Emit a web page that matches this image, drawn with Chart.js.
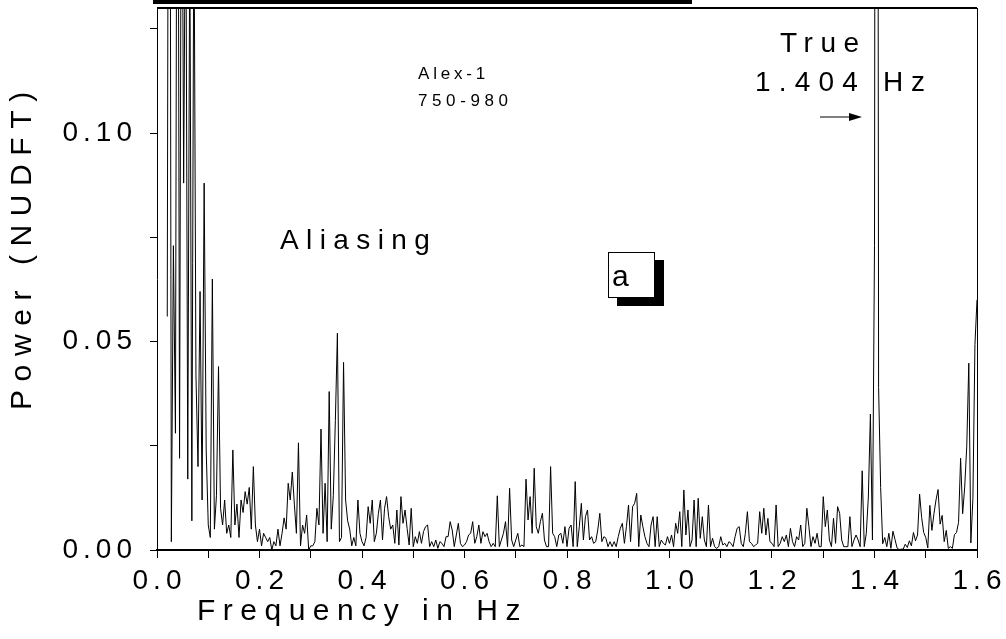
<!DOCTYPE html>
<html>
<head>
<meta charset="utf-8">
<script src="https://cdn.jsdelivr.net/npm/chart.js@4.4.1/dist/chart.umd.min.js"></script>
<style>
  html, body { margin: 0; padding: 0; background: #fff; }
  #wrap { width: 1006px; height: 639px; }
</style>
</head>
<body>
<div id="wrap"><canvas id="spectrum"></canvas></div>
<script>
// Frequency grid of the NUDFT spectrum (Hz)
const freqStart = 0.02;
const freqStep = 0.004;

// Power values, one array per 0.1 Hz band
const band0 = [0.056, 0.30, 0.002, 0.073, 0.028, 0.25, 0.022, 0.20, 0.088, 0.17,
  0.017, 0.15, 0.007, 0.16, 0.042, 0.020, 0.062, 0.012, 0.088, 0.024];
const band1 = [0.006, 0.003, 0.065, 0.005, 0.013, 0.044, 0.010, 0.006, 0.012, 0.004,
  0.006, 0.003, 0.024, 0.006, 0.011, 0.003, 0.012, 0.009, 0.014, 0.011,
  0.015, 0.005, 0.020, 0.006, 0.002];
const band2 = [0.005, 0.001, 0.004, 0.003, 0.002, 0.003, 0.000, 0.002, 0.001, 0.005,
  0.001, 0.004, 0.0077, 0.005, 0.016, 0.012, 0.0187, 0.011, 0.004, 0.0257,
  0.001, 0.006, 0.004, 0.0084, 0.000];
const band3 = [0.001, 0.001, 0.002, 0.010, 0.006, 0.029, 0.004, 0.016, 0.002, 0.038,
  0.005, 0.013, 0.031, 0.052, 0.002, 0.003, 0.045, 0.012, 0.007, 0.005,
  0.001, 0.003, 0.001, 0.012, 0.004];
const band4 = [0.002, 0.001, 0.003, 0.0104, 0.0064, 0.012, 0.002, 0.004, 0.0088, 0.012,
  0.0024, 0.010, 0.0128, 0.008, 0.005, 0.006, 0.0016, 0.0096, 0.0012, 0.0128,
  0.0064, 0.0096, 0.0052, 0.0012, 0.010];
const band5 = [0.0008, 0.0032, 0.0016, 0.0044, 0.0016, 0.0044, 0.0056, 0.006, 0.0008, 0.002,
  0.0008, 0.0024, 0.0004, 0.002, 0.0016, 0.0008, 0.0032, 0.0032, 0.0068, 0.0048,
  0.0008, 0.0036, 0.0064, 0.0016, 0.0008];
const band6 = [0.0012, 0.002, 0.0036, 0.004, 0.0068, 0.0016, 0.0032, 0.006, 0.0016, 0.0044,
  0.0032, 0.004, 0.002, 0.0008, 0.0016, 0.0008, 0.013, 0.0008, 0.0024, 0.004,
  0.0068, 0.0008, 0.0148, 0.0024, 0.0008];
const band7 = [0.0024, 0.004, 0.0008, 0.0012, 0.0008, 0.017, 0.0072, 0.0128, 0.004, 0.0196,
  0.0056, 0.004, 0.0068, 0.0088, 0.0024, 0.0008, 0.0008, 0.020, 0.004, 0.0032,
  0.0008, 0.0036, 0.004, 0.0016, 0.0056];
const band8 = [0.0008, 0.0052, 0.006, 0.0008, 0.0164, 0.0008, 0.0056, 0.0112, 0.0024, 0.008,
  0.0096, 0.0024, 0.0032, 0.0016, 0.002, 0.0048, 0.0088, 0.002, 0.0032, 0.0028,
  0.0008, 0.002, 0.0008, 0.002, 0.0008];
const band9 = [0.0032, 0.0052, 0.0064, 0.0016, 0.0056, 0.0108, 0.002, 0.0104, 0.0112, 0.0136,
  0.0008, 0.0084, 0.0056, 0.0032, 0.0016, 0.0008, 0.006, 0.008, 0.0008, 0.008,
  0.0008, 0.0024, 0.0016, 0.0012, 0.0032];
const band10 = [0.0016, 0.0036, 0.0008, 0.0064, 0.004, 0.0092, 0.0008, 0.0144, 0.0036, 0.0096,
  0.0008, 0.0024, 0.012, 0.0008, 0.0124, 0.0028, 0.008, 0.0024, 0.0008, 0.0108,
  0.0008, 0.0028, 0.0008, 0.0004, 0.0008];
const band11 = [0.0032, 0.0012, 0.0016, 0.0008, 0.002, 0.0016, 0.0008, 0.0032, 0.0052, 0.0056,
  0.0016, 0.0008, 0.004, 0.0092, 0.002, 0.0016, 0.0008, 0.0012, 0.0016, 0.0092,
  0.004, 0.010, 0.0036, 0.0076, 0.002];
const band12 = [0.0016, 0.0008, 0.0108, 0.0008, 0.0016, 0.0032, 0.002, 0.0036, 0.0008, 0.0052,
  0.002, 0.0008, 0.0032, 0.0024, 0.006, 0.0008, 0.0016, 0.010, 0.0056, 0.0008,
  0.0032, 0.0016, 0.004, 0.0008, 0.0008];
const band13 = [0.0128, 0.0056, 0.0096, 0.0024, 0.0008, 0.0076, 0.0016, 0.0104, 0.0088, 0.0024,
  0.0008, 0.0008, 0.0008, 0.008, 0.0008, 0.0024, 0.0036, 0.0024, 0.0008, 0.019,
  0.0008, 0.004, 0.0127, 0.0326, 0.0024];
const band14 = [0.073, 0.50, 0.039, 0.015, 0.0015, 0.003, 0.0008, 0.004, 0.0004, 0.0045,
  0.0025, 0.0005, 0.0001, 0.0002, 0.0002, 0.0014, 0.0006, 0.0022, 0.001, 0.0042,
  0.0022, 0.0036, 0.0134, 0.0078, 0.0042];
const band15 = [0.003, 0.0005, 0.0107, 0.0047, 0.0087, 0.012, 0.0145, 0.0062, 0.0083, 0.002,
  0.0047, 0.0004, 0.0008, 0.0004, 0.0037, 0.0042, 0.0066, 0.022, 0.0087, 0.0151,
  0.0249, 0.0448, 0.0017, 0.0123, 0.0493, 0.060];

const power = [].concat(band0, band1, band2, band3, band4, band5, band6, band7,
  band8, band9, band10, band11, band12, band13, band14, band15);
const freqs = power.map((_, i) => +(freqStart + i * freqStep).toFixed(3));

// Axis ranges and labels
const xRange = [0, 1.6];
const yRange = [0, 0.13];
const yTitle = 'Power (NUDFT)';
const xTitle = 'Frequency in Hz';

const FONT = '"Liberation Sans", Arial, Helvetica, sans-serif';

// text with spread-out letters, like the original plot
function spacedText(ctx, text, x, y, size, spacing) {
  ctx.font = size + 'px ' + FONT;
  ctx.letterSpacing = spacing + 'px';
  ctx.fillText(text, x, y);
}

// Draw frame, titles and annotations on top of the chart
const decorations = {
  id: 'decorations',
  beforeDraw(chart) {
    // tick labels are spread out too
    chart.ctx.letterSpacing = '5px';
  },
  afterDraw(chart) {
    const ctx = chart.ctx;
    const a = chart.chartArea;
    ctx.save();
    ctx.fillStyle = '#000';
    ctx.strokeStyle = '#000';

    // thick bar along the top
    ctx.fillRect(153, 0, 539, 4);

    // top and right frame lines
    ctx.lineWidth = 2;
    ctx.beginPath();
    ctx.moveTo(a.left, a.top);
    ctx.lineTo(a.right, a.top);
    ctx.stroke();
    ctx.lineWidth = 1;
    ctx.beginPath();
    ctx.moveTo(a.right + 0.5, a.top);
    ctx.lineTo(a.right + 0.5, a.bottom);
    ctx.stroke();

    // axis titles
    ctx.textBaseline = 'middle';
    ctx.textAlign = 'left';
    spacedText(ctx, xTitle, 197, 612, 30, 7.5);
    ctx.save();
    ctx.translate(23, 410);
    ctx.rotate(-Math.PI / 2);
    spacedText(ctx, yTitle, 0, 0, 30, 8.6);
    ctx.restore();

    // annotations
    spacedText(ctx, 'Alex-1', 418, 74, 17, 3.8);
    spacedText(ctx, '750-980', 418, 101, 17, 4.6);
    spacedText(ctx, 'Aliasing', 280, 241, 28, 7.4);
    spacedText(ctx, 'True', 780, 44, 28, 7.5);
    spacedText(ctx, '1.404', 755, 83, 28, 8.2);
    spacedText(ctx, 'Hz', 883, 83, 28, 7.8);

    // arrow towards the 1.404 Hz peak
    ctx.letterSpacing = '0px';
    ctx.lineWidth = 1;
    ctx.beginPath();
    ctx.moveTo(820, 117);
    ctx.lineTo(852, 117);
    ctx.stroke();
    ctx.beginPath();
    ctx.moveTo(862, 117);
    ctx.lineTo(849, 113);
    ctx.lineTo(849, 121);
    ctx.closePath();
    ctx.fill();

    // panel label "a" with drop shadow
    ctx.fillRect(617, 260, 47, 46);
    ctx.fillStyle = '#fff';
    ctx.fillRect(608, 252, 47, 46);
    ctx.strokeRect(608.5, 252.5, 46, 45);
    ctx.fillStyle = '#000';
    ctx.textBaseline = 'alphabetic';
    spacedText(ctx, 'a', 612, 286, 30, 0);
    ctx.restore();
  }
};

new Chart(document.getElementById('spectrum'), {
  type: 'line',
  data: {
    datasets: [{
      data: freqs.map((f, i) => ({ x: f, y: power[i] })),
      borderColor: '#000',
      borderWidth: 1,
      pointRadius: 0,
      tension: 0,
      fill: false
    }]
  },
  options: {
    responsive: true,
    maintainAspectRatio: false,
    animation: false,
    events: [],
    layout: { padding: { top: 8, right: 29, left: 0, bottom: 0 } },
    plugins: {
      legend: { display: false },
      tooltip: { enabled: false },
      title: { display: false }
    },
    scales: {
      x: {
        type: 'linear',
        min: xRange[0],
        max: xRange[1],
        afterFit(scale) {
          scale.height = 89;
          scale.paddingLeft = 0;
          scale.paddingRight = 0;
        },
        border: { display: true, color: '#000', width: 2 },
        grid: { drawOnChartArea: false, drawTicks: true, tickLength: 8, color: '#000', lineWidth: 1 },
        ticks: {
          stepSize: 0.1,
          includeBounds: false,
          autoSkip: false,
          maxRotation: 0,
          padding: 6,
          labelOffset: 2.5,
          color: '#000',
          font: { family: FONT, size: 28 },
          callback: v => (Math.round(v * 10) % 2 === 0 ? v.toFixed(1) : '')
        }
      },
      y: {
        type: 'linear',
        min: yRange[0],
        max: yRange[1],
        afterFit(scale) {
          scale.width = 157;
          scale.paddingTop = 0;
          scale.paddingBottom = 0;
        },
        border: { display: true, color: '#000', width: 1 },
        grid: { drawOnChartArea: false, drawTicks: true, tickLength: 7, color: '#000', lineWidth: 1 },
        ticks: {
          stepSize: 0.025,
          includeBounds: false,
          autoSkip: false,
          padding: 13,
          color: '#000',
          font: { family: FONT, size: 28 },
          callback: v => (Math.round(v * 1000) % 50 === 0 ? v.toFixed(2) : '')
        }
      }
    }
  },
  plugins: [decorations]
});
</script>
</body>
</html>
